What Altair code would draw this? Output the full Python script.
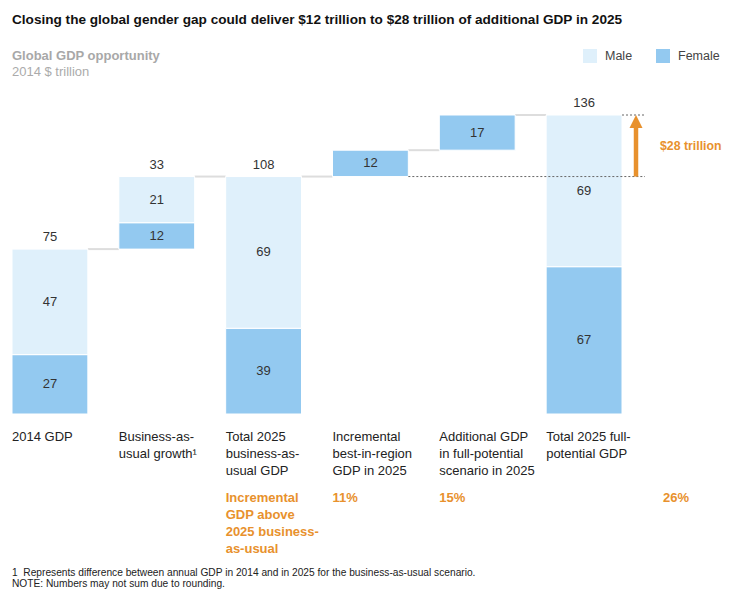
import altair as alt
import pandas as pd

# ---------------- data ----------------
keys = ["gdp2014", "bau_growth", "total_bau", "best_region", "full_potential", "total_full"]
cat_labels = [
    "2014 GDP",
    "Business-as-\nusual growth\u00b9",
    "Total 2025\nbusiness-as-\nusual GDP",
    "Incremental\nbest-in-region\nGDP in 2025",
    "Additional GDP\nin full-potential\nscenario in 2025",
    "Total 2025 full-\npotential GDP",
]
start = [0, 75, 0, 108, 120, 0]
top = [75, 108, 108, 120, 136, 136]
female = [27, 12, 39, 12, 17, 67]
male = [47, 21, 69, None, None, 69]
totals = [75, 33, 108, None, None, 136]

incr_keys = ["total_bau", "best_region", "full_potential"]
incr_labels = ["Incremental\nGDP above\n2025 business-\nas-usual", "11%", "15%"]
incr_total = "26%"
gap_low, gap_high = 108, 136
gap_label = "$28 trillion"

title = "Closing the global gender gap could deliver $12 trillion to $28 trillion of additional GDP in 2025"
sub1 = "Global GDP opportunity"
sub2 = "2014 $ trillion"
foot1 = "1\u00a0\u00a0Represents difference between annual GDP in 2014 and in 2025 for the business-as-usual scenario."
foot2 = "NOTE: Numbers may not sum due to rounding."

# ---------------- styles ----------------
FONT = "Liberation Sans, Arial, sans-serif"
MALE_C = "#DFF0FB"
FEMALE_C = "#93C9F0"
ORANGE = "#E8912D"
Y_RANGE = [406, 107]
X_RANGE = [4, 614]
PPU = (Y_RANGE[0] - Y_RANGE[1]) / (gap_high - 0)

# ---------------- tables ----------------
seg_rows = []
for i, k in enumerate(keys):
    f_top = min(start[i] + female[i], top[i])
    seg_rows.append(dict(key=k, gender="Female", y=start[i], y2=f_top, label=female[i]))
    if male[i] is not None:
        seg_rows.append(dict(key=k, gender="Male", y=f_top, y2=top[i], label=male[i]))
seg = pd.DataFrame(seg_rows)
seg["mid"] = (seg["y"] + seg["y2"]) / 2

tot = pd.DataFrame({"key": keys, "top": top, "total": totals}).dropna()
tot["total"] = tot["total"].astype(int)

conn = pd.DataFrame({"key": keys[:-1], "key2": keys[1:], "level": top[:-1]})
cats = pd.DataFrame({"key": keys, "label": cat_labels})
incr = pd.DataFrame({"key": incr_keys, "label": incr_labels})

xscale = alt.Scale(domain=keys, range=X_RANGE, paddingInner=0.29, paddingOuter=0)
yscale = alt.Scale(domain=[0, gap_high], range=Y_RANGE, nice=False)


def X(f, bp=None):
    if bp is None:
        return alt.X(f, scale=xscale, axis=None)
    return alt.X(f, scale=xscale, axis=None, bandPosition=bp)


def Y(f):
    return alt.Y(f, scale=yscale, axis=None)


connectors = alt.Chart(conn).mark_rule(color="#DDDDDD", strokeWidth=2).encode(
    x=X("key:N", 1), x2=alt.X2("key2:N", bandPosition=0), y=Y("level:Q")
)

bars = alt.Chart(seg).mark_bar(stroke="white", strokeWidth=1).encode(
    x=X("key:N"),
    y=Y("y:Q"),
    y2="y2:Q",
    color=alt.Color(
        "gender:N",
        scale=alt.Scale(domain=["Male", "Female"], range=[MALE_C, FEMALE_C]),
        legend=alt.Legend(
            orient="none", legendX=575, legendY=41, direction="horizontal", title=None,
            symbolType="square", symbolSize=196, symbolStrokeWidth=0,
            labelFont=FONT, labelFontSize=12.5, labelColor="#444444",
            labelOffset=8, columnPadding=23,
        ),
    ),
)

seg_text = alt.Chart(seg).mark_text(font=FONT, fontSize=13, color="#333333").encode(
    x=X("key:N"), y=Y("mid:Q"), text="label:Q"
)

tot_text = alt.Chart(tot).mark_text(font=FONT, fontSize=13, color="#333333", baseline="bottom", dy=-5).encode(
    x=X("key:N"), y=Y("top:Q"), text="total:Q"
)

dash_df = pd.DataFrame({"key": ["best_region", "total_full"], "level": [gap_low, gap_high]})
dashes = alt.Chart(dash_df).mark_rule(color="#666666", strokeWidth=1, strokeDash=[2, 2]).encode(
    x=X("key:N", 1), x2=alt.value(637), y=Y("level:Q")
)

arrow_df = pd.DataFrame({"lo": [gap_low], "hi": [gap_high - 9 / PPU], "head": [gap_high - 6.5 / PPU],
                         "mid": [(gap_low + gap_high) / 2], "label": [gap_label]})
shaft = alt.Chart(arrow_df).mark_rule(color=ORANGE, strokeWidth=4.5).encode(
    x=alt.value(628), y=Y("lo:Q"), y2="hi:Q"
)
head = alt.Chart(arrow_df).mark_point(
    shape="M0,-1L1,1L-1,1Z", size=169, filled=True, color=ORANGE, opacity=1, strokeWidth=0
).encode(x=alt.value(628), y=Y("head:Q"))
gap_text = alt.Chart(arrow_df).mark_text(
    font=FONT, fontSize=12.3, fontWeight="bold", color=ORANGE, align="left", baseline="middle"
).encode(x=alt.value(652), y=Y("mid:Q"), text="label:N")

cat_text = alt.Chart(cats).mark_text(
    font=FONT, fontSize=13, color="#222222", align="left", baseline="alphabetic", lineBreak="\n", lineHeight=17
).encode(x=X("key:N", 0), y=alt.value(433), text="label:N")

incr_text = alt.Chart(incr).mark_text(
    font=FONT, fontSize=13, fontWeight="bold", color=ORANGE, align="left", baseline="alphabetic",
    lineBreak="\n", lineHeight=17
).encode(x=X("key:N", 0), y=alt.value(494), text="label:N")

incr_tot = alt.Chart(pd.DataFrame({"t": [incr_total]})).mark_text(
    font=FONT, fontSize=13, fontWeight="bold", color=ORANGE, align="left", baseline="alphabetic"
).encode(x=alt.value(655), y=alt.value(494), text="t:N")


def label(txt, x, y, size, color, weight="normal"):
    return alt.Chart(pd.DataFrame({"t": [txt]})).mark_text(
        font=FONT, fontSize=size, color=color, fontWeight=weight, align="left", baseline="alphabetic"
    ).encode(x=alt.value(x), y=alt.value(y), text="t:N")


header = (
    label(title, 4, 16, 13.6, "#111111", "bold")
    + label(sub1, 4, 52, 13, "#A8A8A8", "bold")
    + label(sub2, 4, 68, 13, "#ABABAB")
    + label(foot1, 4, 568, 10.2, "#222222")
    + label(foot2, 4, 579, 10.2, "#222222")
)

chart = alt.layer(
    connectors, bars, seg_text, tot_text, dashes, shaft, head, gap_text, cat_text, incr_text, incr_tot, header
).properties(width=714, height=582, padding=0, autosize="none").configure_view(stroke=None)

chart.save("out.html", embed_options={"renderer": "svg", "actions": False})
